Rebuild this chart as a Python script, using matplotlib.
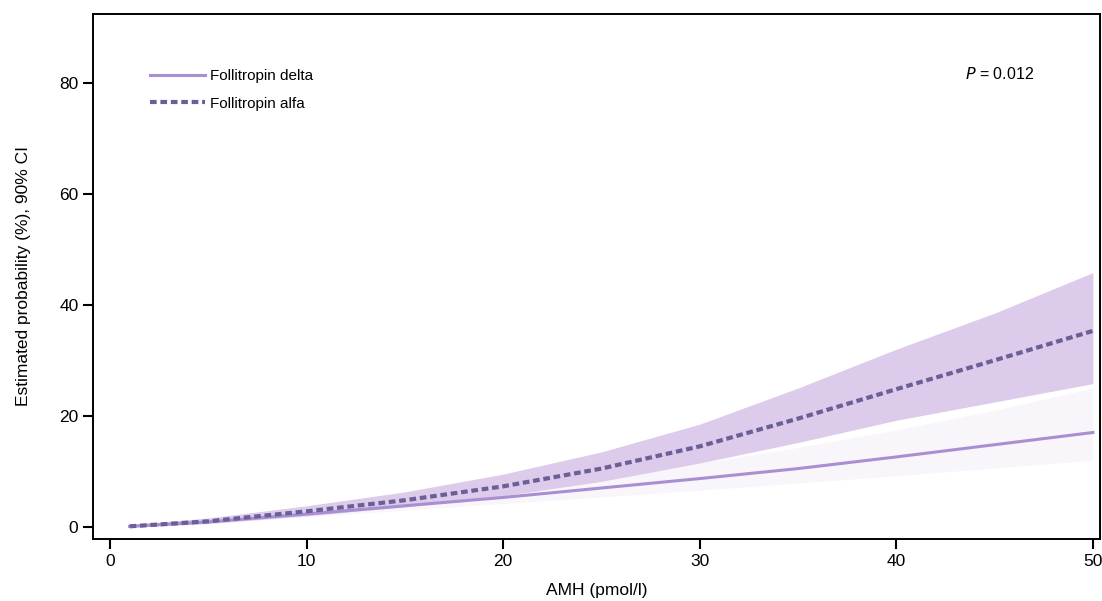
import matplotlib
matplotlib.use("Agg")
import matplotlib.pyplot as plt
import numpy as np

plt.rcParams['font.family'] = ['Liberation Sans', 'DejaVu Sans']

amh = [1, 5, 10, 15, 20, 25, 30, 35, 40, 45, 50]
alfa_mean = [0.1, 1.0, 2.8, 4.8, 7.3, 10.5, 14.5, 19.5, 24.8, 30.0, 35.3]
alfa_upper = [0.4, 1.6, 3.8, 6.3, 9.5, 13.5, 18.5, 25.0, 32.0, 38.5, 45.8]
alfa_lower = [-0.1, 0.6, 2.0, 3.6, 5.6, 8.2, 11.5, 15.2, 19.2, 22.5, 25.8]
delta_mean = [0.1, 0.9, 2.3, 3.8, 5.3, 7.0, 8.7, 10.5, 12.6, 14.8, 17.0]
delta_upper = [0.3, 1.2, 2.8, 4.6, 6.6, 9.0, 11.5, 14.3, 17.5, 21.0, 25.0]
delta_lower = [0.0, 0.6, 1.8, 3.0, 4.2, 5.4, 6.6, 7.9, 9.2, 10.6, 12.0]

xt = [0, 10, 20, 30, 40, 50]
yt = [0, 20, 40, 60, 80]

fig = plt.figure(figsize=(11.02, 6.01), dpi=100)
ax = fig.add_axes([0.0844, 0.103, 0.9136, 0.874])

ax.fill_between(amh, delta_lower, delta_upper, color='#f8f6fb', lw=0)
ax.fill_between(amh, alfa_lower, alfa_upper, color='#dccbea', lw=0)
ax.plot(amh, delta_mean, color='#a98fd2', lw=2.2, label='Follitropin delta')
ax.plot(amh, alfa_mean, color='#6b5f98', lw=3, ls=(0, (1.6, 0.9)), label='Follitropin alfa')

ax.set_xlim(-0.86, 50.35)
ax.set_ylim(-2.2, 92.4)
ax.set_xticks(xt)
ax.set_yticks(yt)
ax.tick_params(direction='out', length=7, width=1.5, labelsize=12.5, colors='black')
for s in ax.spines.values():
    s.set_linewidth(1.4)
ax.set_xlabel('AMH (pmol/l)', fontsize=12.5, labelpad=10)
ax.set_ylabel('Estimated probability (%), 90% CI', fontsize=12.5, labelpad=20)

ax.legend(loc='upper left', bbox_to_anchor=(0.043, 0.921), frameon=False, fontsize=11,
          handlelength=3.6, handletextpad=0.3, labelspacing=0.9)
ax.text(0.935, 0.885, r'$P$ = 0.012', transform=ax.transAxes, fontsize=11.5, ha='right', va='center')

fig.savefig('out.png', dpi=100)
